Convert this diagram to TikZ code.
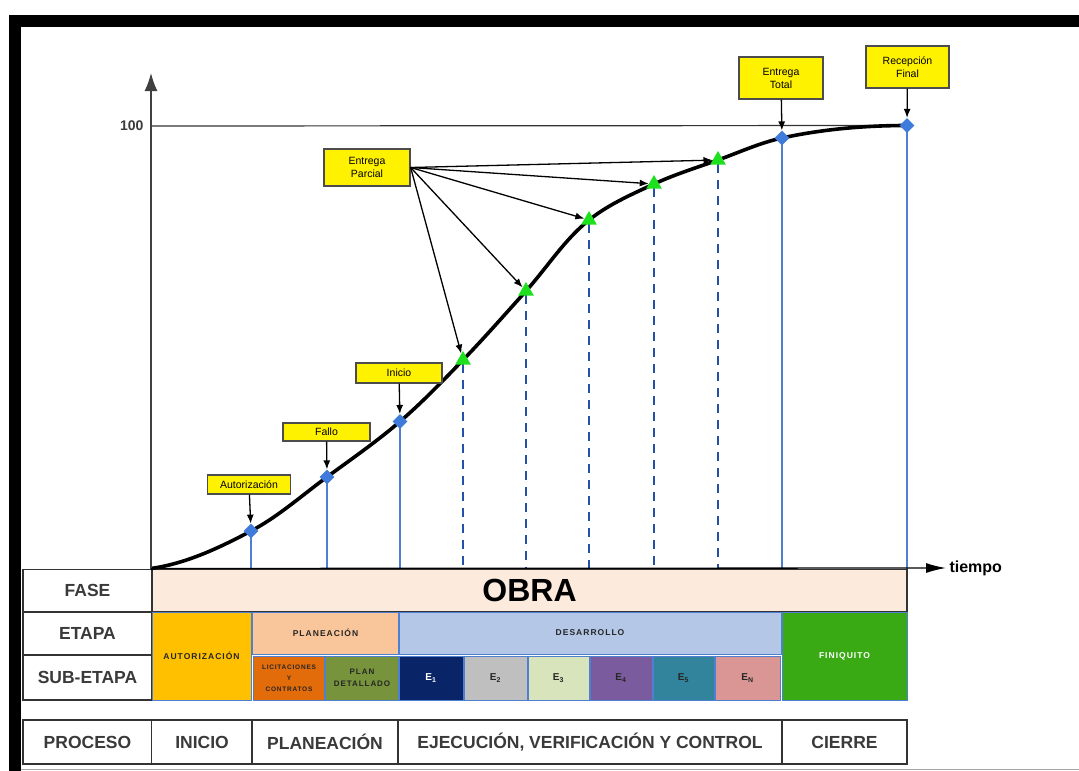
\documentclass[tikz,border=0pt]{standalone}
\usepackage{fontspec}
\setmainfont{Liberation Sans}
\newfontfamily\anchafont[LetterSpace=12]{Liberation Sans}
\usetikzlibrary{arrows.meta,shapes.geometric}

\definecolor{obra}{HTML}{FCEBDD}
\definecolor{naranja}{HTML}{FFC000}
\definecolor{durazno}{HTML}{F9C69B}
\definecolor{ladrillo}{HTML}{E26B0A}
\definecolor{oliva}{HTML}{77933C}
\definecolor{celeste}{HTML}{B4C7E7}
\definecolor{marino}{HTML}{0A2468}
\definecolor{gris}{HTML}{BFBFBF}
\definecolor{pistacho}{HTML}{D8E4BC}
\definecolor{morado}{HTML}{7A5C9E}
\definecolor{verdeazul}{HTML}{31849B}
\definecolor{salmon}{HTML}{DA9694}
\definecolor{pasto}{HTML}{3AAA14}
\definecolor{azulhito}{HTML}{3F7BDA}
\definecolor{azullinea}{HTML}{4F7FD0}
\definecolor{azulguion}{HTML}{2550A8}
\definecolor{verdehito}{HTML}{1EE01E}
\definecolor{texto}{HTML}{3A3A3A}

\begin{document}
\begin{tikzpicture}[x=1pt,y=-1pt,
    >={Latex[length=9pt,width=7pt]},
    etiqueta/.style={draw=black!70,line width=1.3pt,fill=yellow,inner sep=0pt,
        align=center,font=\fontsize{10.5}{13}\selectfont},
    hito/.style={diamond,aspect=1,fill=azulhito,inner sep=0pt,minimum size=15pt},
    parcial/.style={regular polygon,regular polygon sides=3,fill=verdehito,
        inner sep=0pt,minimum size=18pt},
    rotulo/.style={draw=black!80,line width=1.3pt,fill=white,text=texto,inner sep=0pt,
        minimum width=129pt,font=\bfseries\fontsize{17.5}{19}\selectfont},
    proc/.style={draw=black!80,line width=1.3pt,fill=white,text=texto,inner sep=0pt,
        minimum height=44pt,font=\bfseries\fontsize{17.5}{19}\selectfont},
    celda/.style={draw=azullinea,line width=0.8pt,inner sep=0pt,align=center,text=black!85,
        font=\anchafont\bfseries\fontsize{8.5}{12}\selectfont},
    sub/.style={celda,minimum height=44pt,font=\bfseries\fontsize{10}{12}\selectfont},
    vlinea/.style={azullinea,line width=1.6pt},
    guion/.style={azulguion,line width=1.6pt,dash pattern=on 9pt off 7pt}]
  \useasboundingbox (0,0) rectangle (1079,771);

  \fill[black] (9,15) rectangle (1079,27);
  \fill[black] (9,15) rectangle (21,771);
  \draw[gray!70] (21,769.5) -- (1079,769.5);

  \node[rotulo,minimum height=42pt] (fase) at (87.5,590.5) {FASE};
  \node[rotulo,minimum height=43pt] (etapa) at (87.5,633.5) {ETAPA};
  \node[rotulo,minimum height=45pt] (subetapa) at (87.5,677.5) {SUB-ETAPA};
  \node[draw=black!80,line width=1.3pt,fill=obra,inner sep=0pt,minimum width=755pt,
        minimum height=42pt,font=\bfseries\fontsize{32}{34}\selectfont] (obra) at (529.5,590.5) {OBRA};

  \node[celda,fill=naranja,minimum width=99pt,minimum height=88pt] (autoriz) at (201.5,656) {AUTORIZACIÓN};
  \node[celda,fill=durazno,minimum width=146pt,minimum height=42pt] (planea) at (325.5,633) {PLANEACIÓN};
  \node[celda,fill=ladrillo,minimum width=71pt,minimum height=44pt,
        font=\anchafont\bfseries\fontsize{6.5}{11}\selectfont] (licit) at (289,678) {LICITACIONES\\Y\\CONTRATOS};
  \node[celda,fill=oliva,minimum width=73pt,minimum height=44pt,
        font=\anchafont\bfseries\fontsize{8}{12}\selectfont] (plandet) at (362,678) {PLAN\\DETALLADO};
  \node[celda,fill=celeste,minimum width=382pt,minimum height=42pt] (desarr) at (590,633) {DESARROLLO};
  \node[sub,fill=marino,text=white,minimum width=64pt] (e1) at (431,678) {E\textsubscript{1}};
  \node[sub,fill=gris,minimum width=63pt] (e2) at (495.5,678) {E\textsubscript{2}};
  \node[sub,fill=pistacho,minimum width=61pt] (e3) at (558.5,678) {E\textsubscript{3}};
  \node[sub,fill=morado,minimum width=62pt] (e4) at (621,678) {E\textsubscript{4}};
  \node[sub,fill=verdeazul,minimum width=61pt] (e5) at (683.5,678) {E\textsubscript{5}};
  \node[sub,fill=salmon,minimum width=65pt] (en) at (747.5,678) {E\textsubscript{N}};
  \node[celda,fill=pasto,text=white,minimum width=125pt,minimum height=88pt] (finiq) at (844.5,656) {FINIQUITO};

  \node[rotulo,minimum height=44pt] (proceso) at (87.5,742) {PROCESO};
  \node[proc,minimum width=101pt] (pinicio) at (202,742) {INICIO};
  \node[proc,minimum width=146pt] (pplan) at (325,742) {PLANEACIÓN};
  \node[proc,minimum width=384pt] (pejec) at (590,742) {EJECUCIÓN, VERIFICACIÓN Y CONTROL};
  \node[proc,minimum width=125pt] (pcierre) at (844.5,742) {CIERRE};

  \coordinate (o) at (151,568.5);
  \coordinate (ytop) at (151,73);
  \coordinate (pAut) at (251,531);
  \coordinate (pFal) at (327,477);
  \coordinate (pIni) at (400,421.5);
  \coordinate (t1) at (463,360);
  \coordinate (t2) at (526,291);
  \coordinate (t3) at (589,220);
  \coordinate (t4) at (654,184);
  \coordinate (t5) at (718,160);
  \coordinate (pTot) at (782,138);
  \coordinate (pFin) at (907,125.5);

  \node[anchor=east,text=texto,font=\bfseries\fontsize{14}{16}\selectfont] (cien) at (147,126) {100};
  \draw[black!80,line width=1.2pt] (o |- cien) -- (pFin);

  \foreach \p in {pAut,pFal,pIni,pTot,pFin}
    \draw[vlinea] (\p) -- (\p |- o);
  \foreach \p in {t1,t2,t3,t4,t5}
    \draw[guion] ([yshift=-4pt]\p) -- (\p |- o);

  \draw[black,line width=3.6pt]
    (o) .. controls +(35.3,-5) and +(-31.4,16.7) .. (pAut)
        .. controls +(27.5,-14.6) and +(-25.1,18.4) .. (pFal)
        .. controls +(24.6,-18.1) and +(-23.2,20) .. (pIni)
        .. controls +(22.2,-19.1) and +(-20.4,21.1) .. (t1)
        .. controls +(21.6,-22.4) and +(-20.8,23.1) .. (t2)
        .. controls +(21.1,-23.5) and +(-24.7,19.8) .. (t3)
        .. controls +(19.4,-15.5) and +(-22.5,10.4) .. (t4)
        .. controls +(20.7,-9.6) and +(-21.5,7.7) .. (t5)
        .. controls +(21.3,-7.7) and +(-22.1,4.8) .. (pTot)
        .. controls +(40.9,-8.9) and +(-41.9,0) .. (pFin);

  \node[anchor=west,font=\bfseries\fontsize{16}{18}\selectfont] (tiempo) at (946,568) {tiempo};
  \draw[black!75,line width=1.5pt,-{Latex[length=18pt,width=13pt]}] (o) -- (ytop);
  \draw[black,line width=1.3pt,-{Latex[length=20pt,width=10pt]}] (o) -- (tiempo.west);

  \node[hito] (dAut) at (pAut) {};
  \node[hito] (dFal) at (pFal) {};
  \node[hito] (dIni) at (pIni) {};
  \node[hito] (dTot) at (pTot) {};
  \node[hito] (dFin) at (pFin) {};
  \node[parcial] (e1h) at (t1) {};
  \node[parcial] (e2h) at (t2) {};
  \node[parcial] (e3h) at (t3) {};
  \node[parcial] (e4h) at (t4) {};
  \node[parcial] (e5h) at (t5) {};

  \node[etiqueta,minimum width=83pt,minimum height=19pt] (autorizacion) at (249,484.5) {Autorización};
  \node[etiqueta,minimum width=87pt,minimum height=18pt] (fallo) at (326.5,432) {Fallo};
  \node[etiqueta,minimum width=86pt,minimum height=20pt] (inicio) at (399,373) {Inicio};
  \node[etiqueta,minimum width=86pt,minimum height=37pt] (entregap) at (367,167.5) {Entrega\\Parcial};
  \node[etiqueta,minimum width=84pt,minimum height=42pt] (entregat) at (781,78) {Entrega\\Total};
  \node[etiqueta,minimum width=83pt,minimum height=42pt] (recepcion) at (907.5,67) {Recepción\\Final};

  \draw[->,line width=1.3pt] (autorizacion) -- (dAut);
  \draw[->,line width=1.3pt] (fallo) -- (dFal);
  \draw[->,line width=1.3pt] (inicio) -- (dIni);
  \draw[->,line width=1.3pt] (entregat) -- (dTot);
  \draw[->,line width=1.3pt] (recepcion) -- (dFin);
  \draw[->,line width=1.3pt] (entregap.east) -- (e1h);
  \draw[->,line width=1.3pt] (entregap.east) -- (e2h);
  \draw[->,line width=1.3pt] (entregap.east) -- (e3h);
  \draw[->,line width=1.3pt] (entregap.east) -- (e4h);
  \draw[->,line width=1.3pt] (entregap.east) -- (e5h);
\end{tikzpicture}
\end{document}
